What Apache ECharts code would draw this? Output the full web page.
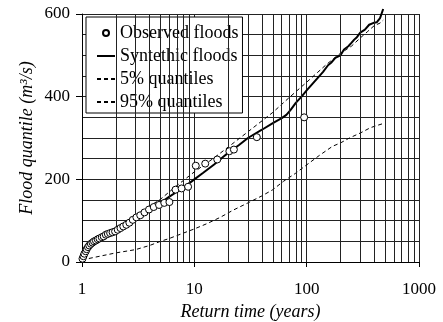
<!DOCTYPE html>
<html>
<head>
<meta charset="utf-8">
<script src="https://cdn.jsdelivr.net/npm/echarts@6/dist/echarts.min.js"></script>
<style>
  html, body { margin: 0; padding: 0; background: #fff; }
  #chart-container { width: 443px; height: 322px; }
</style>
</head>
<body>
<div id="chart-container"></div>
<script>
// observed floods (return time in years, flood in m3/s)
var obsT = [1.01, 1.03, 1.05, 1.08, 1.1, 1.13, 1.16, 1.2, 1.24, 1.28, 1.33, 1.38, 1.43, 1.5, 1.56, 1.63, 1.7, 1.78,
            1.87, 1.97, 2.08, 2.2, 2.33, 2.48, 2.64, 2.83, 3.05, 3.3, 3.6, 3.95, 4.35, 4.85, 5.4, 6.0,
            6.8, 7.7, 8.8, 10.3, 12.5, 16, 20.5, 22.5, 36, 95];
var obsQ = [8, 14, 20, 26, 31, 36, 40, 44, 47, 50, 52, 55, 57, 60, 62, 66, 68, 70,
            72, 74, 78, 82, 86, 90, 95, 102, 108, 113, 120, 127, 133, 138, 143, 145,
            175, 178, 182, 233, 238, 248, 268, 272, 302, 350];

// synthetic floods
var synT = [1, 1.05, 1.1, 1.2, 1.3, 1.5, 1.7, 2, 2.5, 3, 4, 5, 6, 7, 8, 10, 12, 15, 18, 20, 25, 30, 40, 50, 60,
            66, 72, 80, 90, 100, 110, 125, 140, 155, 165, 180, 200, 215, 235, 250, 265, 280, 300, 330, 360,
            390, 420, 450, 480];
var synQ = [8, 20, 30, 42, 48, 58, 66, 76, 92, 105, 125, 143, 158, 170, 180, 200, 216, 236, 254, 264, 283, 300, 320, 336, 348,
            356, 368, 385, 400, 415, 428, 445, 460, 476, 482, 494, 500, 514, 522, 530, 538, 544, 555, 562, 574,
            578, 580, 590, 612];

// quantile bands
var q05T = [1, 1.2, 1.5, 2, 3, 4, 5, 7, 10, 15, 20, 30, 50, 70, 100, 150, 200, 250, 300, 350, 400, 450, 480];
var q05Q = [10, 45, 62, 82, 112, 135, 152, 185, 218, 252, 278, 315, 362, 398, 435, 478, 505, 522, 542, 558, 572, 578, 585];
var q95T = [1, 1.5, 2, 3, 4, 5, 6, 8, 10, 13, 17, 22, 30, 40, 50, 62, 80, 100, 130, 170, 200, 240, 300, 370, 420, 480];
var q95Q = [5, 15, 22, 30, 40, 50, 57, 70, 80, 93, 108, 125, 143, 160, 175, 195, 215, 235, 258, 280, 288, 300, 312, 325, 330, 335];

// log minor grid positions on the return time axis
var minorT = [2, 3, 4, 5, 6, 7, 8, 9, 20, 30, 40, 50, 60, 70, 80, 90, 200, 300, 400, 500, 600, 700, 800, 900];

function pairs(xs, ys) {
    return xs.map(function (x, i) { return [x, ys[i]]; });
}

var FONT = "'Liberation Serif', 'Times New Roman', serif";
var myChart = echarts.init(document.getElementById('chart-container'));

var option = {
    animation: false,
    grid: { left: 82, right: 24, top: 14, bottom: 60, outerBoundsMode: 'none' },
    legend: {
        orient: 'vertical',
        left: 86,
        top: 17,
        padding: [7, 4, 2, 10],
        itemGap: 5,
        itemWidth: 18,
        itemHeight: 6,
        backgroundColor: '#fff',
        borderColor: '#000',
        borderWidth: 1,
        borderRadius: 0,
        textStyle: { fontFamily: FONT, fontSize: 18, color: '#000' },
        data: [
            { name: 'Observed floods' },
            { name: 'Syntethic floods', itemStyle: { opacity: 0 } },
            { name: '5% quantiles', itemStyle: { opacity: 0 } },
            { name: '95% quantiles', itemStyle: { opacity: 0 } }
        ]
    },
    xAxis: {
        type: 'log',
        logBase: 10,
        min: 1,
        max: 1000,
        name: 'Return time (years)',
        nameLocation: 'middle',
        nameGap: 41,
        nameMoveOverlap: false,
        nameTextStyle: { fontFamily: FONT, fontSize: 18, fontStyle: 'italic', color: '#000' },
        axisLine: { lineStyle: { color: '#000', width: 1 } },
        axisTick: { inside: false, length: 5, lineStyle: { color: '#000' } },
        axisLabel: {
            fontFamily: FONT, fontSize: 17, color: '#000', margin: 19,
            formatter: function (v) { return String(Math.round(v)); }
        },
        splitLine: { show: true, lineStyle: { color: '#222', width: 1 } }
    },
    yAxis: [
        {
            // fine grid every 50
            type: 'value',
            min: 0,
            max: 600,
            interval: 50,
            axisLine: { show: false },
            axisTick: { show: false },
            axisLabel: { show: false },
            splitLine: { show: true, lineStyle: { color: '#222', width: 1 } }
        },
        {
            // labelled axis every 200
            type: 'value',
            position: 'left',
            min: 0,
            max: 600,
            interval: 200,
            name: 'Flood quantile (m³/s)',
            nameLocation: 'middle',
            nameGap: 46,
            nameMoveOverlap: false,
            nameTextStyle: { fontFamily: FONT, fontSize: 18, fontStyle: 'italic', color: '#000' },
            axisLine: { show: true, lineStyle: { color: '#000', width: 1 } },
            axisTick: { show: true, inside: false, length: 6, lineStyle: { color: '#000' } },
            axisLabel: { fontFamily: FONT, fontSize: 17, color: '#000', margin: 12 },
            splitLine: { show: false }
        }
    ],
    series: [
        {
            // minor vertical grid only
            name: 'grid',
            type: 'line',
            data: [],
            z: 1,
            silent: true,
            markLine: {
                silent: true,
                symbol: 'none',
                label: { show: false },
                lineStyle: { color: '#222', width: 1, type: 'solid' },
                data: minorT.map(function (t) { return { xAxis: t }; })
            }
        },
        {
            name: '95% quantiles',
            type: 'line',
            data: pairs(q95T, q95Q),
            showSymbol: false,
            symbol: 'none',
            z: 3,
            itemStyle: { color: '#000' },
            lineStyle: { color: '#000', width: 1, type: [4, 3] }
        },
        {
            name: '5% quantiles',
            type: 'line',
            data: pairs(q05T, q05Q),
            showSymbol: false,
            symbol: 'none',
            z: 3,
            itemStyle: { color: '#000' },
            lineStyle: { color: '#000', width: 1, type: [4, 3] }
        },
        {
            name: 'Syntethic floods',
            type: 'line',
            data: pairs(synT, synQ),
            showSymbol: false,
            symbol: 'none',
            clip: false,
            z: 4,
            itemStyle: { color: '#000' },
            lineStyle: { color: '#000', width: 2 }
        },
        {
            name: 'Observed floods',
            type: 'scatter',
            data: pairs(obsT, obsQ),
            symbol: 'circle',
            symbolSize: 7,
            z: 5,
            itemStyle: { color: '#fff', borderColor: '#000', borderWidth: 1, opacity: 1 }
        }
    ]
};
myChart.setOption(option);
</script>
</body>
</html>
